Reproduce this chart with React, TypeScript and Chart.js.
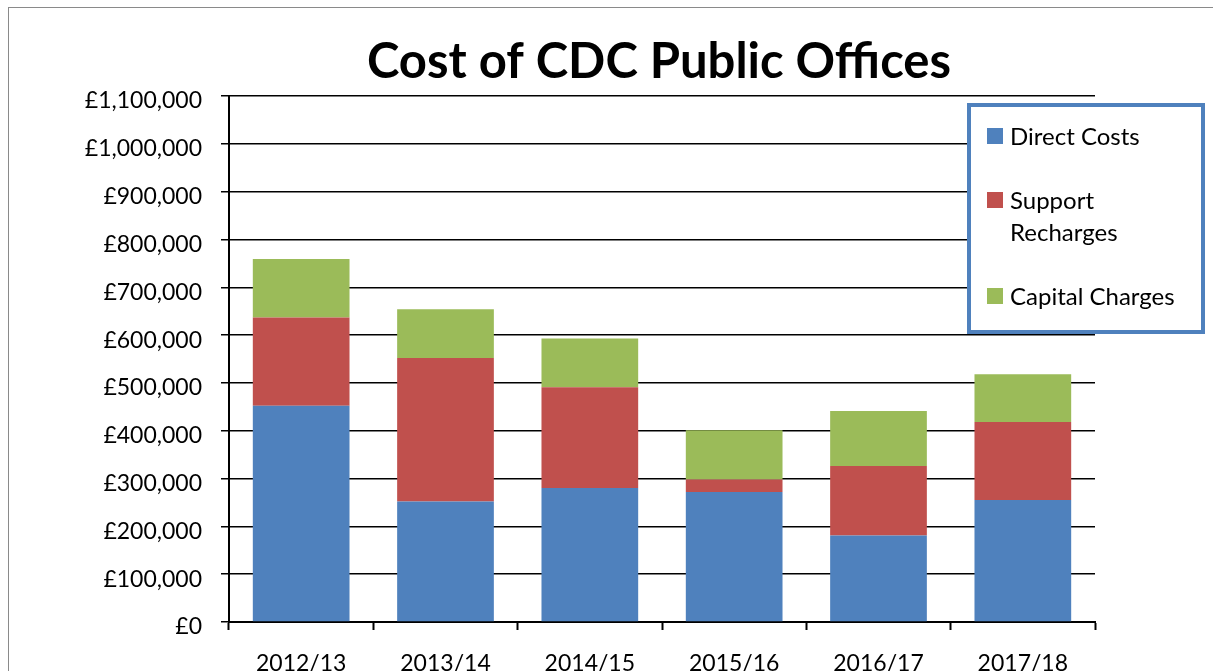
import React, { useEffect, useRef } from "react";
import { Chart, registerables } from "chart.js";

Chart.register(...registerables);

const chartTitle = "Cost of CDC Public Offices";
const categories = ["2012/13", "2013/14", "2014/15", "2015/16", "2016/17", "2017/18"];
const directCosts = [452000, 252000, 280000, 272000, 181000, 255000];
const supportRecharges = [185000, 300000, 211000, 26000, 145000, 163000];
const capitalCharges = [122000, 102000, 102000, 103000, 115000, 100000];
const seriesNames = ["Direct Costs", "Support Recharges", "Capital Charges"];
const seriesColors = ["#4F81BD", "#C0504D", "#9BBB59"];
const legendLines = [["Direct Costs"], ["Support", "Recharges"], ["Capital Charges"]];
const yMin = 0;
const yMax = 1100000;
const yStep = 100000;

const FONT = 'Lato, "Open Sans", "Noto Sans", sans-serif';

const formatPounds = (v: number) => "£" + Math.round(v).toLocaleString("en-GB");

const decorPlugin = {
  id: "decor",
  afterDraw(chart: any) {
    const ctx = chart.ctx as CanvasRenderingContext2D;
    ctx.save();
    // Title
    ctx.fillStyle = "#000";
    ctx.font = `bold 49px ${FONT}`;
    ctx.textAlign = "center";
    ctx.textBaseline = "alphabetic";
    ctx.fillText(chartTitle, 650, 70);

    // Legend box
    ctx.fillStyle = "#fff";
    ctx.fillRect(958, 95, 238, 231);
    ctx.strokeStyle = "#4F81BD";
    ctx.lineWidth = 4;
    ctx.strokeRect(960, 97, 234, 227);

    ctx.font = `24px ${FONT}`;
    ctx.textAlign = "left";
    ctx.textBaseline = "middle";
    let y = 128;
    const lineH = 32;
    chart.data.datasets.forEach((ds: any, i: number) => {
      ctx.fillStyle = ds.backgroundColor;
      ctx.fillRect(978, y - 8, 16, 16);
      ctx.fillStyle = "#000";
      const lines = legendLines[i] || [ds.label];
      lines.forEach((ln: string, j: number) => {
        ctx.fillText(ln, 1001, y + 1 + j * lineH);
      });
      y += lines.length * lineH + 32;
    });
    ctx.restore();
  },
};

export default function App() {
  const ref = useRef<HTMLCanvasElement | null>(null);

  useEffect(() => {
    if (!ref.current) return;
    const seriesData = [directCosts, supportRecharges, capitalCharges];
    const chart = new Chart(ref.current, {
      type: "bar",
      data: {
        labels: categories,
        datasets: seriesData.map((d, i) => ({
          label: seriesNames[i],
          data: d,
          backgroundColor: seriesColors[i],
          borderWidth: 0,
          categoryPercentage: 1,
          barPercentage: 0.67,
        })),
      },
      options: {
        responsive: false,
        animation: false,
        devicePixelRatio: 1,
        layout: { padding: { left: 0, right: 134, top: 88, bottom: 26 } },
        plugins: {
          legend: { display: false },
          title: { display: false },
          tooltip: { enabled: false },
        },
        scales: {
          x: {
            stacked: true,
            afterFit: (s: any) => {
              s.height = 60;
            },
            grid: {
              drawOnChartArea: false,
              drawTicks: true,
              tickLength: 8,
              tickColor: "#000",
              tickWidth: 2,
              offset: true,
            },
            border: { display: true, color: "#000", width: 2 },
            ticks: {
              color: "#000",
              font: { family: FONT, size: 23 },
              padding: 20,
              maxRotation: 0,
              autoSkip: false,
            },
          },
          y: {
            stacked: true,
            min: yMin,
            max: yMax,
            afterFit: (s: any) => {
              s.width = 220;
            },
            grid: {
              color: "#000",
              lineWidth: 1.5,
              drawTicks: true,
              tickLength: 8,
              tickColor: "#000",
              tickWidth: 1.5,
            },
            border: { display: true, color: "#000", width: 2 },
            ticks: {
              stepSize: yStep,
              color: "#000",
              font: { family: FONT, size: 23 },
              padding: 19,
              labelOffset: 5,
              callback: (v: any) => formatPounds(Number(v)),
            },
          },
        },
      },
      plugins: [decorPlugin],
    });
    return () => chart.destroy();
  }, []);

  return (
    <div
      style={{
        position: "fixed",
        left: 8,
        top: 7,
        width: 1205,
        height: 664,
        overflow: "hidden",
        borderLeft: "1px solid #8a8a8a",
        borderTop: "1px solid #8a8a8a",
        background: "#fff",
      }}
    >
      <canvas ref={ref} width={1220} height={700} style={{ display: "block" }} />
    </div>
  );
}
